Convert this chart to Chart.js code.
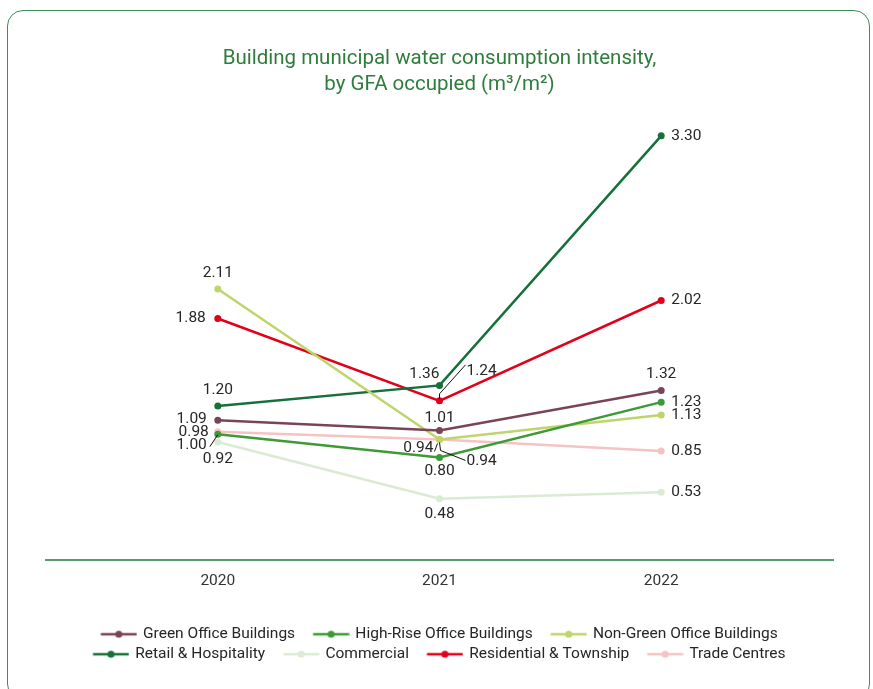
<!DOCTYPE html>
<html><head><meta charset="utf-8">
<script src="https://cdn.jsdelivr.net/npm/chart.js@4.4.1/dist/chart.umd.min.js"></script>
<style>
html,body{margin:0;padding:0;background:#fff;width:873px;height:689px;overflow:hidden;}
#frame{position:absolute;left:7px;top:10px;width:863px;height:690px;border:1.5px solid #3f8d58;border-radius:16px;box-sizing:border-box;pointer-events:none;}
canvas{position:absolute;left:0;top:0;}
</style></head><body>
<canvas id="c" width="873" height="689"></canvas>
<div id="frame"></div>
<script>
// ---- data ----
const years = [2020, 2021, 2022];
const seriesNames = ['Green Office Buildings', 'High-Rise Office Buildings', 'Non-Green Office Buildings',
  'Retail & Hospitality', 'Commercial', 'Residential & Township', 'Trade Centres'];
const greenOffice  = [1.09, 1.01, 1.32];
const highRise     = [0.98, 0.80, 1.23];
const nonGreen     = [2.11, 0.94, 1.13];
const retail       = [1.20, 1.36, 3.30];
const commercial   = [0.92, 0.48, 0.53];
const residential  = [1.88, 1.24, 2.02];
const tradeCentres = [1.00, 0.94, 0.85];
const seriesValues = [greenOffice, highRise, nonGreen, retail, commercial, residential, tradeCentres];
const seriesColors = ['#7a4457', '#3d9a35', '#bdd56b', '#16703a', '#d9ebd3', '#e2001a', '#f4c3c3'];

// label placement per series / point: [dx, dy, align, leader polyline]
const placements = [
  [[-11, -1, 'right'], [0, -12, 'center'], [0, -16, 'center']],
  [[-9, -2, 'right'], [0, 14, 'center'], [10, 0, 'left']],
  [[0, -16, 'center'], [-6, 9, 'right', [[-5, 12], [-2, 4]]], [10, 0, 'left']],
  [[0, -16, 'center'], [0, -11, 'right'], [10, 0, 'left']],
  [[0, 17, 'center'], [0, 15, 'center'], [10, 0, 'left']],
  [[-12, 0, 'right'], [27, -30, 'left', [[0, -2], [0, -7], [26, -36]]], [10, 0, 'left']],
  [[-11, 13, 'right', [[-8, 15], [0, 3]]], [27, 22, 'left', [[0, 3], [1, 11], [26, 21]]], [10, 0, 'left']]
];

function swatch(color) {
  const c = document.createElement('canvas');
  c.width = 52; c.height = 12;
  const g = c.getContext('2d');
  g.strokeStyle = color; g.lineWidth = 2.5;
  g.beginPath(); g.moveTo(15.5, 6); g.lineTo(51.5, 6); g.stroke();
  g.fillStyle = color; g.beginPath(); g.arc(33.5, 6, 3.5, 0, Math.PI * 2); g.fill();
  return c;
}
const swatches = seriesColors.map(swatch);

const labelPlugin = {
  id: 'valueLabels',
  afterLayout(chart) {
    const lg = chart.legend;
    if (lg) { lg.left -= 7; lg.right -= 7; lg.top += 1; lg.bottom += 1; }
  },
  afterDatasetsDraw(chart) {
    const ctx = chart.ctx;
    ctx.save();
    ctx.font = '15.5px Roboto';
    ctx.fillStyle = '#262626';
    ctx.textBaseline = 'middle';
    chart.data.datasets.forEach((ds, di) => {
      const meta = chart.getDatasetMeta(di);
      meta.data.forEach((pt, i) => {
        const p = placements[di][i];
        ctx.textAlign = p[2];
        ctx.fillText(ds.data[i].y.toFixed(2), pt.x + p[0], pt.y + p[1]);
        if (p[3]) {
          ctx.beginPath();
          ctx.strokeStyle = '#111';
          ctx.lineWidth = 1;
          p[3].forEach((q, k) => k ? ctx.lineTo(pt.x + q[0], pt.y + q[1]) : ctx.moveTo(pt.x + q[0], pt.y + q[1]));
          ctx.stroke();
        }
      });
    });
    ctx.restore();
  }
};

const datasets = seriesNames.map((name, si) => ({
  label: name,
  data: years.map((yr, i) => ({x: yr, y: seriesValues[si][i]})),
  borderColor: seriesColors[si],
  backgroundColor: seriesColors[si],
  borderWidth: 2.5,
  pointRadius: 3.5,
  pointHoverRadius: 3.5,
  pointBorderWidth: 0,
  tension: 0
}));

new Chart(document.getElementById('c'), {
  type: 'line',
  data: {datasets},
  plugins: [labelPlugin],
  options: {
    responsive: false,
    animation: false,
    layout: {padding: {left: 46, right: 40, top: 0, bottom: 18}},
    plugins: {
      tooltip: {enabled: false},
      title: {
        display: true,
        text: ['Building municipal water consumption intensity,', 'by GFA occupied (m³/m²)'],
        color: '#2e7d3c',
        font: {family: 'Roboto', size: 20.5, weight: 'normal', lineHeight: 1.27},
        padding: {top: 46, bottom: 12}
      },
      legend: {
        position: 'bottom',
        labels: {
          usePointStyle: true,
          pointStyleWidth: 48,
          padding: 4.5,
          color: '#262626',
          font: {family: 'Roboto', size: 15.5},
          generateLabels: (chart) => chart.data.datasets.map((ds, i) => ({
            text: ds.label, pointStyle: swatches[i], fillStyle: ds.borderColor,
            strokeStyle: ds.borderColor, lineWidth: 0, hidden: false, datasetIndex: i, fontColor: '#262626'
          }))
        }
      }
    },
    scales: {
      x: {
        type: 'linear',
        min: 2019.225,
        max: 2022.775,
        grid: {display: false, drawTicks: false},
        border: {display: true, color: '#5a9a6e', width: 2},
        ticks: {
          stepSize: 1,
          includeBounds: false,
          padding: 11,
          color: '#333',
          font: {family: 'Roboto', size: 15.5},
          callback: (v) => Number.isInteger(v) ? String(v) : ''
        },
        afterFit: (scale) => { scale.height += 20; }
      },
      y: {display: false, min: 0, max: 3.5}
    }
  }
});
</script>
</body></html>
